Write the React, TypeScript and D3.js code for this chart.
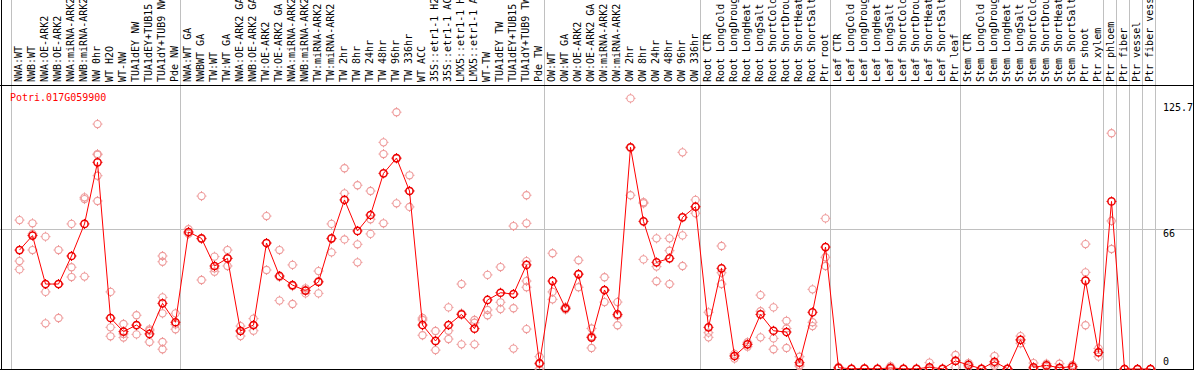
import React from "react";
import * as d3 from "d3";

const geneName = "Potri.017G059900";

const categories = [
  "NWA:WT", "NWB:WT", "NWA:OE-ARK2", "NWB:OE-ARK2", "NWA:miRNA-ARK2", "NWB:miRNA-ARK2",
  "NW 0hr", "WT H2O", "WT-NW", "TUA1dEY NW", "TUA1dEY+TUB15 NW", "TUA1dY+TUB9 NW", "Pde NW",
  "NWA:WT GA", "NWBWT GA", "TW:WT", "TW:WT GA", "NWA:OE-ARK2 GA", "NWB:OE-ARK2 GA",
  "TW:OE-ARK2", "TW:OE-ARK2 GA", "NWA:miRNA-ARK2", "NWB:miRNA-ARK2", "TW:miRNA-ARK2", "TW:miRNA-ARK2",
  "TW 2hr", "TW 8hr", "TW 24hr", "TW 48hr", "TW 96hr", "TW 336hr", "WT ACC",
  "35S::etr1-1 H2O", "35S::etr1-1 ACC", "LMX5::etr1-1 H2O", "LMX5::etr1-1 ACC", "WT-TW",
  "TUA1dEY TW", "TUA1dEY+TUB15 TW", "TUA1dY+TUB9 TW", "Pde TW",
  "OW:WT", "OW:WT GA", "OW:OE-ARK2", "OW:OE-ARK2 GA", "OW:miRNA-ARK2", "OW:miRNA-ARK2",
  "OW 2hr", "OW 8hr", "OW 24hr", "OW 48hr", "OW 96hr", "OW 336hr",
  "Root CTR", "Root LongCold", "Root LongDrought", "Root LongHeat", "Root LongSalt",
  "Root ShortCold", "Root ShortDrought", "Root ShortHeat", "Root ShortSalt", "Ptr root",
  "Leaf CTR", "Leaf LongCold", "Leaf LongDrought", "Leaf LongHeat", "Leaf LongSalt",
  "Leaf ShortCold", "Leaf ShortDrought", "Leaf ShortHeat", "Leaf ShortSalt", "Ptr leaf",
  "Stem CTR", "Stem LongCold", "Stem LongDrought", "Stem LongHeat", "Stem LongSalt",
  "Stem ShortCold", "Stem ShortDrought", "Stem ShortHeat", "Stem ShortSalt", "Ptr shoot",
  "Ptr xylem", "Ptr phloem", "Ptr fiber", "Ptr vessel", "Ptr fiber vessel",
];

const meanValues = [
  56.0, 62.8, 40.0, 40.0, 53.2, 68.3, 97.3, 24.0, 17.6, 20.7, 16.5, 30.9, 22.0,
  64.5, 61.5, 48.5, 52.1, 17.9, 20.7, 59.3, 43.8, 39.5, 36.9, 41.0, 61.5,
  79.6, 65.0, 72.5, 92.1, 99.3, 83.8, 20.7, 13.2, 20.7, 25.7, 19.0, 32.5,
  35.9, 35.3, 49.0, 2.7,
  41.4, 28.6, 44.7, 14.8, 37.2, 25.7, 104.4, 69.5, 50.2, 52.1, 71.4, 76.4,
  19.6, 47.4, 6.1, 11.6, 25.7, 18.0, 17.4, 3.0, 26.7, 57.4,
  0.6, 0.1, 0.2, 0.1, 0.5, 0.1, 0.1, 0.8, 0.1, 3.8,
  1.9, 0.1, 3.4, 0.1, 13.7, 0.8, 1.7, 0.6, 1.1, 41.6, 7.8,
  78.9, 0, 0, 0,
];

const replicateValues = [
  [70.1, 50.8, 46.9], [68.6, 63.6, 56.0], [62.3, 36.3, 21.5], [56.0, 40.0, 24.0],
  [68.3, 47.9, 43.3], [80.8, 80.0, 43.5], [115.3, 101.2, 100.9, 91.0, 79.1],
  [36.3, 19.6, 15.4], [21.2, 16.5, 14.8], [25.3, 20.5, 16.3], [18.7, 18.0, 12.7],
  [53.2, 50.5, 33.7, 26.2, 12.7, 9.3], [26.2, 21.0, 18.7],
  [65.8, 64.0, 63.6], [81.4, 61.2, 41.9], [52.9, 47.4, 45.8], [56.0, 52.0, 48.5],
  [20.2, 18.0, 15.5], [23.7, 20.5, 18.0], [72.0, 59.3, 46.6], [56.0, 43.3, 32.2],
  [49.0, 39.0, 30.6], [38.0, 37.1, 35.6], [46.1, 41.3, 35.6], [68.3, 61.3, 54.9],
  [94.5, 82.7, 61.0], [86.5, 58.7, 50.2], [83.8, 70.5, 63.6], [106.7, 101.2, 68.6],
  [120.9, 99.0, 78.0], [91.2, 83.9, 76.3], [24.0, 23.1, 15.9], [17.9, 13.0, 8.9],
  [29.0, 18.0, 14.1], [40.0, 26.2, 11.6], [23.1, 21.8, 11.6], [44.3, 27.8, 25.3],
  [48.0, 31.4, 28.2], [67.3, 28.6, 9.6], [81.8, 68.6, 50.8, 41.4, 38.5, 18.8],
  [5.8, 2.3, 0],
  [54.5, 36.3, 32.8], [29.2, 28.6, 28.0], [51.2, 44.5, 38.5], [19.1, 15.4, 9.9],
  [43.2, 37.0, 31.5], [31.5, 25.0, 20.6], [127.4, 104.0, 81.8], [78.5, 78.0, 51.6],
  [61.5, 48.2, 41.3], [61.5, 55.7, 40.0], [102.0, 62.9, 48.5], [79.6, 76.3, 73.3],
  [26.7, 17.1, 14.9], [57.9, 45.3, 40.0], [7.1, 6.3, 4.9], [12.6, 11.7, 10.5],
  [34.8, 27.2, 14.9], [29.0, 14.4, 9.3], [22.7, 19.1, 9.9], [5.8, 1.9, 1.3],
  [37.5, 22.0, 20.2], [70.9, 52.6, 48.5],
  [1.0, 0.5, 0.3], [0.2, 0.1, 0], [0.3, 0.2, 0.1], [0.2, 0.1, 0], [1.3, 0.2, 0],
  [0.2, 0.1, 0], [0.2, 0.1, 0], [3.0, 0.2, 0], [0.2, 0.1, 0], [6.6, 4.0, 0.8],
  [2.8, 1.9, 1.0], [0.2, 0.1, 0], [6.1, 2.6, 1.5], [0.2, 0.1, 0], [15.5, 13.7, 12.1],
  [2.8, 0.3, 0], [2.5, 1.7, 0.9], [2.5, 0.3, 0], [1.9, 1.1, 0.3],
  [58.8, 45.5, 20.6], [9.7, 7.9, 5.8], [111.0, 69.7, 56.5],
  [0, 0, 0], [0, 0, 0], [0, 0, 0],
];

// indices of the first column of each group (a separator is drawn before each)
const groupStarts = [0, 13, 41, 53, 63, 73, 84, 85, 86, 87, 88];

const yTickValues = [0, 66, 125.7];

const W = 1194;
const H = 370;
const FONT = "'DejaVu Sans Mono', 'Liberation Mono', monospace";

function Marker({ cx, cy, color, sw }: { cx: number; cy: number; color: string; sw: number }) {
  const r = 3.6;
  const t = 1.4;
  return (
    <g stroke={color} strokeWidth={sw} fill="none">
      <circle cx={cx} cy={cy} r={r} />
      <line x1={cx} y1={cy - r - t} x2={cx} y2={cy - r} strokeWidth={1} />
      <line x1={cx} y1={cy + r} x2={cx} y2={cy + r + t} strokeWidth={1} />
      <line x1={cx - r - t} y1={cy} x2={cx - r} y2={cy} strokeWidth={1} />
      <line x1={cx + r} y1={cy} x2={cx + r + t} y2={cy} strokeWidth={1} />
    </g>
  );
}

export default function App() {
  const idx = d3.range(categories.length);
  const x = d3.scaleBand<number>().domain(idx).range([13, 13 + 13 * categories.length]).padding(0);
  const cx = (i: number) => (x(i) as number) + x.bandwidth() / 2;
  const y = d3.scaleLinear().domain([0, 125.7]).range([369, 102]);

  const line = d3
    .line<number>()
    .x((_, i) => cx(i))
    .y((d) => y(d));

  const sepX = (g: number) => {
    const start = g < categories.length ? (x(g) as number) : 13 + 13 * categories.length;
    return Math.floor(start - 2) + 0.5;
  };

  return (
    <svg
      width={W}
      height={H}
      style={{ position: "absolute", left: 0, top: 0, background: "#fff" }}
      fontFamily={FONT}
    >
      <rect x={0} y={0} width={W} height={H} fill="#fff" />
      {/* grid */}
      {groupStarts.map((g) => (
        <line key={"s" + g} x1={sepX(g)} x2={sepX(g)} y1={0} y2={369} stroke="#c0c0c0" strokeWidth={1} />
      ))}
      <line x1={0} x2={W} y1={Math.round(y(66)) + 0.5} y2={Math.round(y(66)) + 0.5} stroke="#c0c0c0" strokeWidth={1} />
      {/* frame */}
      <line x1={0} x2={W} y1={85.5} y2={85.5} stroke="#000" strokeWidth={1} />
      <line x1={0} x2={W} y1={369.5} y2={369.5} stroke="#000" strokeWidth={1} />
      <line x1={1.5} x2={1.5} y1={0} y2={370} stroke="#000" strokeWidth={1} />
      <line x1={1193.5} x2={1193.5} y1={0} y2={370} stroke="#000" strokeWidth={1} />

      {/* category labels */}
      {categories.map((c, i) => (
        <text
          key={"l" + i}
          transform={`translate(${cx(i) + 2},82) rotate(-90)`}
          fontSize={10}
          fill="#000"
          textAnchor="start"
        >
          {c}
        </text>
      ))}

      {/* title */}
      <text x={10} y={101} fontSize={10} fill="#ff0000">
        {geneName}
      </text>

      {/* y tick labels */}
      {yTickValues.map((v) => (
        <text key={"y" + v} x={1163} y={Math.min(y(v) + 8.5, 365)} fontSize={10} fill="#000">
          {String(v)}
        </text>
      ))}

      {/* replicates */}
      {replicateValues.map((reps, i) =>
        reps.map((v, j) => <Marker key={`r${i}-${j}`} cx={cx(i)} cy={y(v)} color="#ee9a9a" sw={1.1} />)
      )}

      {/* mean line */}
      <path d={line(meanValues) || ""} fill="none" stroke="#ff0000" strokeWidth={1} />

      {/* means */}
      {meanValues.map((v, i) => (
        <Marker key={"m" + i} cx={cx(i)} cy={y(v)} color="#ee0000" sw={1.5} />
      ))}
    </svg>
  );
}
